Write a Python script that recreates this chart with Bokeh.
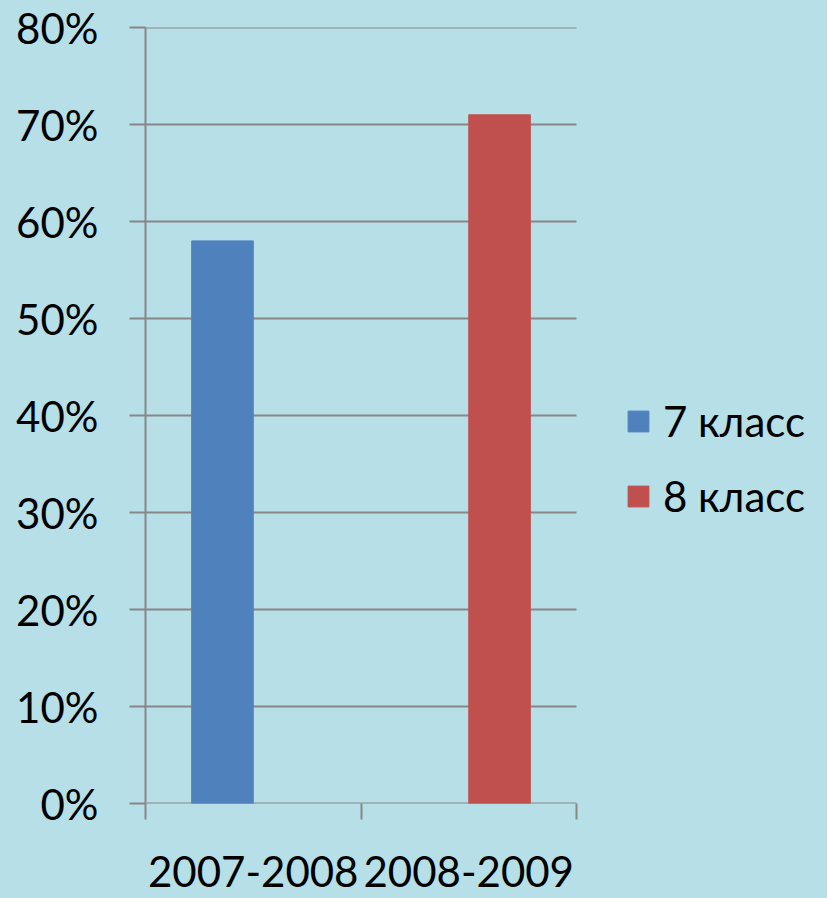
import math
from bokeh.plotting import figure
from bokeh.models import Range1d, FixedTicker, NumeralTickFormatter, ColumnDataSource, Legend, LegendItem
from bokeh.embed import file_html
from bokeh.resources import INLINE

# ---- data ----
years = ["2007-2008", "2008-2009"]
series = ["7 класс", "8 класс"]
values_7 = [0.58, float("nan")]
values_8 = [float("nan"), 0.71]
y_ticks = [0.0, 0.1, 0.2, 0.3, 0.4, 0.5, 0.6, 0.7, 0.8]

colors = ["#4F81BD", "#C0504D"]
BG = "#b6dfe7"
GRAY = "#878787"
FONT = "Lato"
FS = "42px"

W, H = 827, 898
LEFT, TOP, BOTTOM = 145, 27, 95
DATA_W = 431          # pixel width of the category area
FRAME_W = W - LEFT    # frame extends to the right edge so the legend fits inside

n_series = 2
gap = 1.5
bar_w = 1.0 / (n_series + gap)
x_end = len(years) * FRAME_W / DATA_W

p = figure(width=W, height=H, output_backend="svg", toolbar_location=None,
           x_range=Range1d(0, x_end), y_range=Range1d(0, 0.8),
           min_border_left=LEFT, min_border_top=TOP, min_border_right=0, min_border_bottom=BOTTOM)
p.background_fill_color = BG
p.border_fill_color = BG
p.outline_line_color = None

# horizontal gridlines (including the category axis line at 0) spanning the category area
p.segment(x0=[0] * len(y_ticks), x1=[len(years)] * len(y_ticks), y0=y_ticks, y1=y_ticks,
          line_color=GRAY, line_width=2, level="underlay")

renderers = []
for j, vals in enumerate([values_7, values_8]):
    xs = [i + 0.5 + (j - (n_series - 1) / 2) * bar_w for i in range(len(years))]
    src = ColumnDataSource(dict(x=xs, top=vals))
    r = p.vbar(x="x", top="top", bottom=0, width=bar_w, source=src,
               fill_color=colors[j], line_color=colors[j])
    renderers.append(r)

# x axis: boundary ticks as minor ticks, labels at centers
xa = p.xaxis[0]
xa.ticker = FixedTicker(ticks=[i + 0.5 for i in range(len(years))],
                        minor_ticks=list(range(len(years) + 1)))
xa.major_label_overrides = {i + 0.5: y for i, y in enumerate(years)}
xa.major_tick_out = 0
xa.major_tick_in = 0
xa.minor_tick_out = 16
xa.minor_tick_in = 0
xa.minor_tick_line_color = GRAY
xa.minor_tick_line_width = 2
xa.axis_line_color = None
xa.major_label_text_font = FONT
xa.major_label_text_font_size = FS
xa.major_label_text_color = "black"
xa.major_label_standoff = 36

ya = p.yaxis[0]
ya.ticker = FixedTicker(ticks=y_ticks, minor_ticks=[])
ya.formatter = NumeralTickFormatter(format="0%")
ya.major_tick_out = 16
ya.major_tick_in = 0
ya.major_tick_line_color = GRAY
ya.major_tick_line_width = 2
ya.axis_line_color = GRAY
ya.axis_line_width = 2
ya.major_label_text_font = FONT
ya.major_label_text_font_size = FS
ya.major_label_text_color = "black"
ya.major_label_standoff = 31

p.xgrid.visible = False
p.ygrid.visible = False

legend = Legend(items=[LegendItem(label=series[k], renderers=[renderers[k]]) for k in range(2)],
                location=(480, 282), glyph_width=26, glyph_height=26,
                label_text_font=FONT, label_text_font_size=FS, label_text_color="black",
                spacing=25, padding=0, margin=0, label_standoff=12,
                border_line_color=None, background_fill_alpha=0)
p.add_layout(legend)

html = file_html(p, INLINE)
html = html.replace("</head>", "<style>html,body{background:%s;margin:0;}</style></head>" % BG)
open("out.html", "w").write(html)
